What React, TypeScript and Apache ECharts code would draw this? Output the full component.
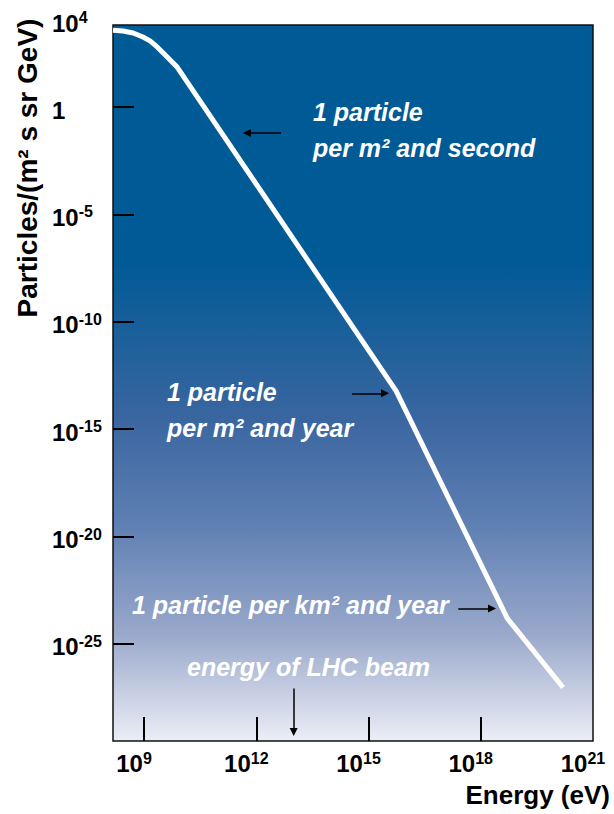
import React, { useEffect, useRef } from "react";
import * as echarts from "echarts";

const FONT = '"Liberation Sans", Arial, Helvetica, sans-serif';

// Curve: log10(energy / eV) and log10(flux)
const energyExp = [8.17, 8.44, 8.71, 8.97, 9.16, 9.35, 9.56, 9.75, 9.88, 15.74, 18.71, 20.2];
const fluxExp = [3.57, 3.54, 3.45, 3.26, 3.08, 2.8, 2.43, 2.1, 1.87, -13.23, -23.81, -27.03];

// Axis ticks (exponents of ten)
const xTickExps = [9, 12, 15, 18];
const xLabelExps = [9, 12, 15, 18, 21];
const yTickExps = [0, -5, -10, -15, -20, -25];
const yTopLabelExp = 4;

// Annotation arrows in data space (from -> to)
const arrowFrom = [[12.66, -1.21], [14.56, -13.33], [17.4, -23.35], [13.0, -27.07]];
const arrowTo = [[11.75, -1.21], [15.44, -13.33], [18.3, -23.35], [13.0, -29.1]];

const noteTexts = [
  "1 particle\nper m² and second",
  "1 particle\nper m² and year",
  "1 particle per km² and year",
  "energy of LHC beam",
];
const yTitle = "Particles/(m² s sr GeV)";
const xTitle = "Energy (eV)";

export default function App() {
  const ref = useRef<HTMLDivElement>(null);
  useEffect(() => {
    const chart = echarts.init(ref.current!, null, { renderer: "svg" });
    const expLabel = (v: number) => (Math.round(v) === 0 ? "{b|1}" : `{b|10}{s|${Math.round(v)}}`);
    const rich = {
      b: { fontFamily: FONT, fontWeight: "bold", fontSize: 24, color: "#000", lineHeight: 27 },
      s: { fontFamily: FONT, fontWeight: "bold", fontSize: 16, color: "#000", lineHeight: 16, verticalAlign: "top" },
    };
    const xRich = {
      b: rich.b,
      s: { ...rich.s, padding: [0, 20, 0, 0] },
    };
    const noteStyle = {
      fill: "#fff",
      fontFamily: FONT,
      fontWeight: "bold",
      fontStyle: "italic",
      fontSize: 25,
      lineHeight: 36,
      align: "left",
      verticalAlign: "middle",
    };
    const grad = new echarts.graphic.LinearGradient(0, 0, 0, 1, [
      { offset: 0, color: "#005a96" },
      { offset: 0.33, color: "#005a96" },
      { offset: 0.55, color: "#3a66a0" },
      { offset: 0.7, color: "#5f80b3" },
      { offset: 0.85, color: "#99a8cb" },
      { offset: 1, color: "#eceef6" },
    ]);
    const baseGraphic: any[] = [
      { type: "text", x: 313, y: 130, style: { ...noteStyle, text: noteTexts[0] } },
      { type: "text", x: 167, y: 410, style: { ...noteStyle, text: noteTexts[1] } },
      { type: "text", x: 132, y: 605, style: { ...noteStyle, text: noteTexts[2] } },
      { type: "text", x: 187, y: 667, style: { ...noteStyle, text: noteTexts[3] } },
      {
        type: "text",
        x: 27,
        y: 168,
        rotation: Math.PI / 2,
        style: { text: yTitle, fill: "#000", fontFamily: FONT, fontWeight: "bold", fontSize: 28, align: "center", verticalAlign: "middle" },
      },
      {
        type: "text",
        x: 610,
        y: 795,
        style: { text: xTitle, fill: "#000", fontFamily: FONT, fontWeight: "bold", fontSize: 26, align: "right", verticalAlign: "middle" },
      },
    ];
    chart.setOption({
      animation: false,
      grid: {
        left: 113,
        top: 25,
        width: 480,
        height: 716,
        show: true,
        backgroundColor: grad,
        borderColor: "#111",
        borderWidth: 1.5,
        containLabel: false,
        outerBoundsMode: "none",
      },
      xAxis: {
        type: "value",
        min: 8.17,
        max: 21,
        axisLine: { show: false, onZero: false },
        splitLine: { show: false },
        axisTick: { show: true, inside: true, length: 24, customValues: xTickExps, lineStyle: { color: "#000", width: 2 } },
        axisLabel: { show: true, customValues: xLabelExps, formatter: expLabel, rich: xRich, margin: 9 },
      },
      yAxis: {
        type: "value",
        min: -29.52,
        max: 3.82,
        axisLine: { show: false, onZero: false },
        splitLine: { show: false },
        axisTick: { show: true, inside: true, length: 21, customValues: yTickExps, lineStyle: { color: "#000", width: 2 } },
        axisLabel: { show: true, customValues: yTickExps, formatter: expLabel, rich, align: "left", margin: 61, padding: [6, 0, 0, 0] },
      },
      series: [
        {
          type: "line",
          data: energyExp.map((e, i) => [e, fluxExp[i]]),
          symbol: "none",
          showSymbol: false,
          silent: true,
          lineStyle: { color: "#fff", width: 5 },
          markLine: {
            silent: true,
            symbol: ["none", "triangle"],
            symbolSize: 8,
            label: { show: false },
            lineStyle: { color: "#000", width: 1.5, type: "solid" },
            itemStyle: { color: "#000" },
            emphasis: { disabled: true },
            data: arrowFrom.map((f, i) => [{ coord: f }, { coord: arrowTo[i] }]),
          },
        },
      ],
      graphic: baseGraphic,
    });
    const py = chart.convertToPixel({ yAxisIndex: 0 }, yTopLabelExp) as number;
    chart.setOption({
      graphic: [
        ...baseGraphic,
        {
          type: "text",
          x: 52,
          y: py + 2,
          style: { text: expLabel(yTopLabelExp), rich, align: "left", verticalAlign: "middle" },
        },
      ],
    });
    return () => chart.dispose();
  }, []);
  return <div ref={ref} style={{ position: "absolute", left: 0, top: 0, width: 614, height: 814 }} />;
}
